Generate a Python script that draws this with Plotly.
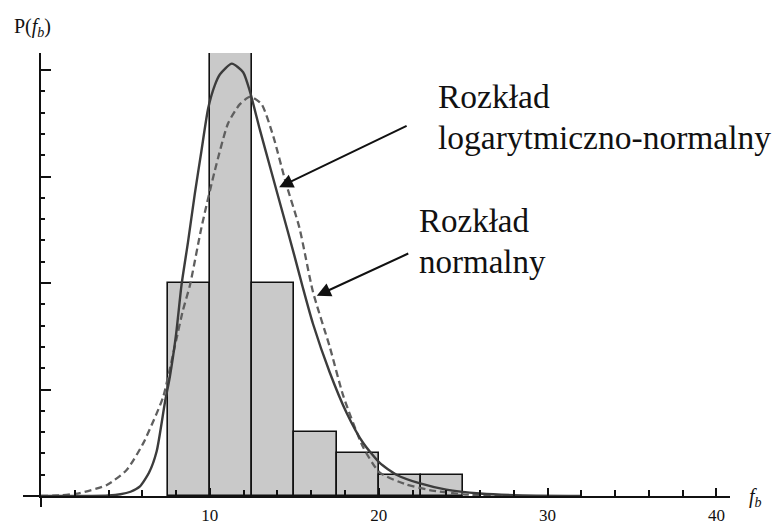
import plotly.graph_objects as go

# ---- data (y in histogram count units) ----
bin_edges = [7.5, 10, 12.5, 15, 17.5, 20, 22.5, 25]
counts = [10, 25, 10, 3, 2, 1, 1]

lognorm_x = [0, 3, 4, 4.7, 5.3, 5.86, 6.4, 6.85, 7.34, 7.63, 8.0, 8.32, 8.7, 9.11, 9.5, 9.9,
             10.3, 10.6, 11.3, 11.97, 12.37, 12.96, 13.65, 14.24, 15.0, 15.5, 16.1, 17.1,
             18.1, 19.07, 20.06, 21.05, 22.4, 24, 26, 28, 32]
lognorm_y = [0, 0, 0.02, 0.08, 0.2, 0.45, 1.1, 2.1, 4.4, 5.6, 7.6, 9.9, 11.9, 14.2, 16.2, 18.2,
             19.3, 19.8, 20.3, 19.9, 19.0, 17.2, 15.2, 13.5, 11.3, 9.8, 8.1, 5.8,
             3.9, 2.5, 1.55, 1.0, 0.6, 0.3, 0.12, 0.04, 0]

normal_x = [0, 1.2, 2.3, 3.9, 5.07, 6.05, 6.85, 7.24, 8.0, 8.4, 8.82, 9.5, 10.3, 11.08, 11.78,
            12.4, 13.06, 13.75, 14.5, 15.3, 16.1, 17.1, 17.9, 19.07, 20.06, 21.6, 23.0, 25.0, 27.5]
normal_y = [0, 0.03, 0.14, 0.52, 1.22, 2.47, 3.88, 4.66, 7.3, 8.7, 9.9, 12.6, 15.3, 17.5, 18.4,
            18.75, 18.4, 16.9, 14.7, 12.6, 9.6, 7.0, 4.7, 2.3, 1.1, 0.55, 0.28, 0.08, 0]

x_tick_vals = [10, 20, 30, 40]
x_tick_text = ["10", "20", "30", "40"]

# ---- figure ----
centers = [(a + b) / 2 for a, b in zip(bin_edges[:-1], bin_edges[1:])]
widths = [b - a for a, b in zip(bin_edges[:-1], bin_edges[1:])]

fig = go.Figure()
fig.add_trace(go.Bar(x=centers, y=counts, width=widths,
                     marker=dict(color="#c9c9c9", line=dict(color="#111111", width=1.6)),
                     showlegend=False, hoverinfo="skip"))
fig.add_trace(go.Scatter(x=normal_x, y=normal_y, mode="lines",
                         line=dict(color="#5f5f5f", width=2.3, dash="7px,4px", shape="spline", smoothing=0.6),
                         showlegend=False))
fig.add_trace(go.Scatter(x=lognorm_x, y=lognorm_y, mode="lines",
                         line=dict(color="#3c3c3c", width=2.4, shape="spline", smoothing=0.6),
                         showlegend=False))

serif = "Liberation Serif, Times New Roman, serif"
L, R, T, B = 41, 49, 53, 28
PW, PH = 779 - L - R, 524 - T - B


def px_x(p):
    return (p - L) / PW


def px_y(p):
    return (524 - B - p) / PH


fig.update_layout(
    width=779, height=524,
    margin=dict(l=L, r=R, t=T, b=B, autoexpand=False),
    paper_bgcolor="white", plot_bgcolor="white",
    bargap=0,
    font=dict(family=serif, color="#111111"),
    xaxis=dict(range=[0, 40.8], showgrid=False, zeroline=False, automargin=False,
               showline=True, linecolor="#111111", linewidth=2,
               tickmode="array", tickvals=x_tick_vals, ticktext=x_tick_text,
               ticks="inside", ticklen=8, tickwidth=1.6, tickcolor="#111111",
               ticklabelstandoff=3,
               tickfont=dict(family=serif, size=17, color="#111111"),
               minor=dict(tickmode="array",
                          tickvals=[v for v in range(2, 40, 2) if v % 10 != 0],
                          ticks="inside", ticklen=6, tickwidth=1.6, tickcolor="#111111"),
               layer="above traces"),
    yaxis=dict(range=[0, 20.8], showgrid=False, zeroline=False, automargin=False,
               showline=True, linecolor="#111111", linewidth=2,
               tickmode="array", tickvals=[5, 10, 15, 20], showticklabels=False,
               ticks="inside", ticklen=10, tickwidth=1.6, tickcolor="#111111",
               minor=dict(tickmode="array",
                          tickvals=[v for v in range(1, 21) if v % 5 != 0],
                          ticks="inside", ticklen=4, tickwidth=1.6, tickcolor="#111111"),
               layer="above traces"),
    shapes=[
        dict(type="line", xref="paper", yref="paper", x0=px_x(23), x1=0, y0=0, y1=0,
             line=dict(color="#111111", width=2)),
        dict(type="line", xref="paper", yref="paper", x0=0, x1=0, y0=px_y(507), y1=0,
             line=dict(color="#111111", width=2)),
    ],
)

annotations = [
    dict(text="P(<i>f</i><sub><i>b</i></sub>)", xref="paper", yref="paper",
         x=px_x(12), y=px_y(28), xanchor="left", yanchor="middle",
         showarrow=False, font=dict(family=serif, size=20, color="#111111")),
    dict(text="<i>f<sub>b</sub></i>", xref="paper", yref="paper",
         x=px_x(747), y=px_y(497), xanchor="left", yanchor="middle",
         showarrow=False, font=dict(family=serif, size=20, color="#111111")),
    dict(text="Rozkład", xref="paper", yref="paper",
         x=px_x(436), y=px_y(96), xanchor="left", yanchor="middle",
         showarrow=False, font=dict(family=serif, size=33.5, color="#111111")),
    dict(text="logarytmiczno-normalny", xref="paper", yref="paper",
         x=px_x(436), y=px_y(137), xanchor="left", yanchor="middle",
         showarrow=False, font=dict(family=serif, size=33.5, color="#111111")),
    dict(text="Rozkład", xref="paper", yref="paper",
         x=px_x(417), y=px_y(221), xanchor="left", yanchor="middle",
         showarrow=False, font=dict(family=serif, size=33, color="#111111")),
    dict(text="normalny", xref="paper", yref="paper",
         x=px_x(417), y=px_y(262), xanchor="left", yanchor="middle",
         showarrow=False, font=dict(family=serif, size=33, color="#111111")),
    # arrows
    dict(text="", x=14.1, y=14.5, xref="x", yref="y", showarrow=True,
         ax=129, ay=-62, arrowhead=2, arrowsize=1.4, arrowwidth=2, arrowcolor="#111111"),
    dict(text="", x=16.33, y=9.4, xref="x", yref="y", showarrow=True,
         ax=93, ay=-43, arrowhead=2, arrowsize=1.4, arrowwidth=2, arrowcolor="#111111"),
]
fig.update_layout(annotations=annotations)

# the page's default body margin would shift the figure by 8px; remove it
fig.write_html("out.html", config={"displayModeBar": False},
               post_script="document.body.style.margin='0';")
